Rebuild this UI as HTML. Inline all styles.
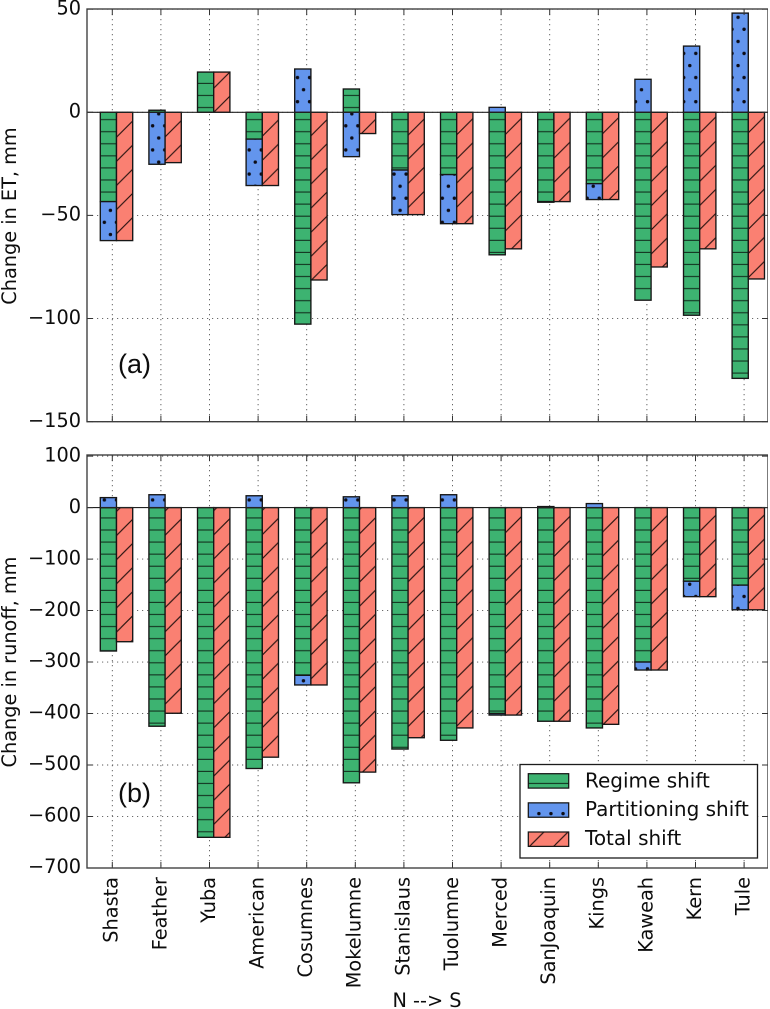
<!DOCTYPE html>
<html>
<head>
<meta charset="utf-8">
<title>Change in ET and runoff by basin</title>
<style>
html,body{margin:0;padding:0;background:#fff;}
svg{display:block;}
text{font-family:"DejaVu Sans","Liberation Sans",sans-serif;fill:#111;}
</style>
</head>
<body>
<svg id="chart" xmlns="http://www.w3.org/2000/svg" width="770" height="1009" viewBox="0 0 770 1009">
  <defs>
    <filter id="soft" x="0" y="0" width="100%" height="100%"><feGaussianBlur stdDeviation="0.35"/></filter>
    <pattern id="h-green" patternUnits="userSpaceOnUse" width="12.07" height="12.07">
      <rect width="12.07" height="12.07" fill="#3CB371"/>
      <path d="M0 11H12.07" stroke="#12321f" stroke-width="1.1"/>
    </pattern>
    <pattern id="dots-a" patternUnits="userSpaceOnUse" width="12.07" height="24.13">
      <rect width="12.07" height="24.13" fill="#6495ED"/>
      <circle cx="1.8" cy="17.3" r="1.7" fill="#0a0a14"/>
      <circle cx="7.8" cy="5.2" r="1.7" fill="#0a0a14"/>
    </pattern>
    <pattern id="dots-b" patternUnits="userSpaceOnUse" width="12.07" height="24.13">
      <rect width="12.07" height="24.13" fill="#6495ED"/>
      <circle cx="7.8" cy="17.3" r="1.7" fill="#0a0a14"/>
      <circle cx="1.7" cy="5.2" r="1.7" fill="#0a0a14"/>
    </pattern>
    <pattern id="slash-a" patternUnits="userSpaceOnUse" width="24.13" height="24.13">
      <rect width="24.13" height="24.13" fill="#FA8072"/>
      <path d="M-1 13.4L13.4 -1M11.4 25.13L25.13 11.4" stroke="#2a1410" stroke-width="1.15" fill="none"/>
    </pattern>
    <pattern id="slash-b" patternUnits="userSpaceOnUse" width="24.13" height="24.13">
      <rect width="24.13" height="24.13" fill="#FA8072"/>
      <path d="M-1 1.5L1.5 -1M-0.5 25.13L25.13 -0.5" stroke="#2a1410" stroke-width="1.15" fill="none"/>
    </pattern>
  </defs>
  <g id="root" filter="url(#soft)"></g>
</svg>
<script>
const categories = ["Shasta","Feather","Yuba","American","Cosumnes","Mokelumne","Stanislaus","Tuolumne","Merced","SanJoaquin","Kings","Kaweah","Kern","Tule"];
const etRegime = [-43.3,1,19.5,-13,-102.7,11.3,-28,-30.2,-69.1,-43.3,-34.6,-91.1,-98.4,-129];
const etPartitioning = [-18.9,-25.2,0,-22.5,21,-21.5,-21.6,-23.8,2.4,-0.3,-7.7,16,32.1,48.1];
const etTotal = [-62.2,-24.4,19.5,-35.5,-81.3,-10.3,-49.6,-54,-66.2,-43.3,-42.3,-75,-66.2,-80.8];
const runoffRegime = [-278.6,-424.7,-640.5,-506.8,-325.8,-534.6,-469,-452,-400,-415,-428,-300,-143,-150.6];
const runoffPartitioning = [19.4,25,0,23,-18.7,21,23,25,-3,2,7.8,-15.5,-30,-47.9];
const runoffTotal = [-260.5,-399.5,-640.5,-484.8,-344.5,-513.8,-447,-428,-403,-415,-421,-315.5,-173,-198.5];
const etTicks = [50,0,-50,-100,-150];
const runoffTicks = [100,0,-100,-200,-300,-400,-500,-600,-700];
const legendLabels = ["Regime shift","Partitioning shift","Total shift"];

const NS = "http://www.w3.org/2000/svg";
const root = document.getElementById("root");
const LEFT = 87, RIGHT = 768, BAR = 16.2, STEP = 48.6, FONT = 19.3, LEGEND_FONT = 20;
const tickX = i => 112.3 + STEP * i;
const groupX = i => 100.3 + STEP * i;
const yEt = v => 112.3 - 2.0625 * v;
const yRunoff = v => 507.6 - 0.5148 * v;

function make(tag, attrs, parent) {
  const el = document.createElementNS(NS, tag);
  for (const k in attrs) el.setAttribute(k, attrs[k]);
  (parent || root).appendChild(el);
  return el;
}
const fmt = v => String(v).replace("-", "\u2212");

function barRect(g, x, y0, y1, fill) {
  return make("rect", {
    x: x, y: Math.min(y0, y1), width: BAR, height: Math.abs(y1 - y0),
    fill: fill, stroke: "#141414", "stroke-width": 1.35
  }, g);
}

function drawPanel(key, top, bottom, yScale, ticks, regime, part, total, dotId, slashId, yTitle, titleY, tag, tagY) {
  const panel = make("g", {});
  
  

  ticks.forEach(t => {
    const gy = make("line", {x1: LEFT, x2: RIGHT, y1: yScale(t), y2: yScale(t), stroke: "#555", "stroke-width": 0.9, "stroke-dasharray": "1.2 3.8"}, panel);
    
    
  });
  categories.forEach((c, i) => {
    const gx = make("line", {x1: tickX(i), x2: tickX(i), y1: top, y2: bottom, stroke: "#555", "stroke-width": 0.9, "stroke-dasharray": "1.2 3.8"}, panel);
    
    
  });

  categories.forEach((c, i) => {
    const g = make("g", {}, panel);
    
    
    const x = groupX(i);
    const r = regime[i], p = part[i], t = total[i];
    const rBar = barRect(g, x, yScale(0), yScale(r), "url(#h-green)");
    
    
    const base = (p * r > 0) ? r : 0;
    if (p !== 0) {
      const pBar = barRect(g, x, yScale(base), yScale(base + p), "url(#" + dotId + ")");
      
      
    }
    const tBar = barRect(g, x + BAR, yScale(0), yScale(t), "url(#" + slashId + ")");
    
    
  });

  const zero = make("line", {x1: LEFT, x2: RIGHT, y1: yScale(0), y2: yScale(0), stroke: "#222", "stroke-width": 1.1}, panel);
  
  

  ticks.forEach(t => {
    const y = yScale(t);
    const tl = make("path", {d: "M" + LEFT + " " + y + "h6M" + RIGHT + " " + y + "h-6", stroke: "#333", "stroke-width": 1}, panel);
    
    
    const lb = make("text", {x: 81, y: y + 5.2, "text-anchor": "end", "font-size": FONT}, panel);
    lb.textContent = fmt(t);
    
    
  });
  categories.forEach((c, i) => {
    const x = tickX(i);
    const tk = make("path", {d: "M" + x + " " + top + "v6M" + x + " " + bottom + "v-6", stroke: "#333", "stroke-width": 1}, panel);
    
    
  });

  const frame = make("rect", {x: LEFT, y: top, width: RIGHT - LEFT, height: bottom - top, fill: "none", stroke: "#3a3a3a", "stroke-width": 1.35}, panel);
  
  

  const title = make("text", {transform: "translate(16," + titleY + ") rotate(-90)", "text-anchor": "middle", "font-size": FONT}, panel);
  title.textContent = yTitle;
  
  

  const tagEl = make("text", {x: 118, y: tagY, "font-size": 27}, panel);
  tagEl.setAttribute("style", 'font-family:"Liberation Sans",sans-serif');
  tagEl.textContent = tag;
  
  
}

drawPanel("et", 9, 421.7, yEt, etTicks, etRegime, etPartitioning, etTotal, "dots-a", "slash-a", "Change in ET, mm", 216, "(a)", 373);
drawPanel("runoff", 455, 868, yRunoff, runoffTicks, runoffRegime, runoffPartitioning, runoffTotal, "dots-b", "slash-b", "Change in runoff, mm", 662, "(b)", 802);

categories.forEach((c, i) => {
  const lab = make("text", {transform: "translate(" + (tickX(i) + 5.4) + ",877) rotate(-90)", "text-anchor": "end", "font-size": FONT});
  lab.textContent = c;
  
  
});

const xTitle = make("text", {x: 427, y: 1007, "text-anchor": "middle", "font-size": FONT});
xTitle.textContent = "N --> S";



const legend = make("g", {});


const legendBox = make("rect", {x: 520, y: 764.5, width: 237.5, height: 93.5, fill: "#fff", stroke: "#1a1a1a", "stroke-width": 1.3}, legend);


const legendFills = ["url(#h-green)", "url(#dots-b)", "url(#slash-b)"];
legendLabels.forEach((s, i) => {
  const sw = make("rect", {x: 528.3, y: 773.7 + 29.15 * i, width: 40.4, height: 14.4, fill: legendFills[i], stroke: "#141414", "stroke-width": 1.25}, legend);
  
  
  const tx = make("text", {x: 585, y: 787.3 + 28.9 * i, "font-size": LEGEND_FONT}, legend);
  tx.textContent = s;
  
  
});
</script>
</body>
</html>
